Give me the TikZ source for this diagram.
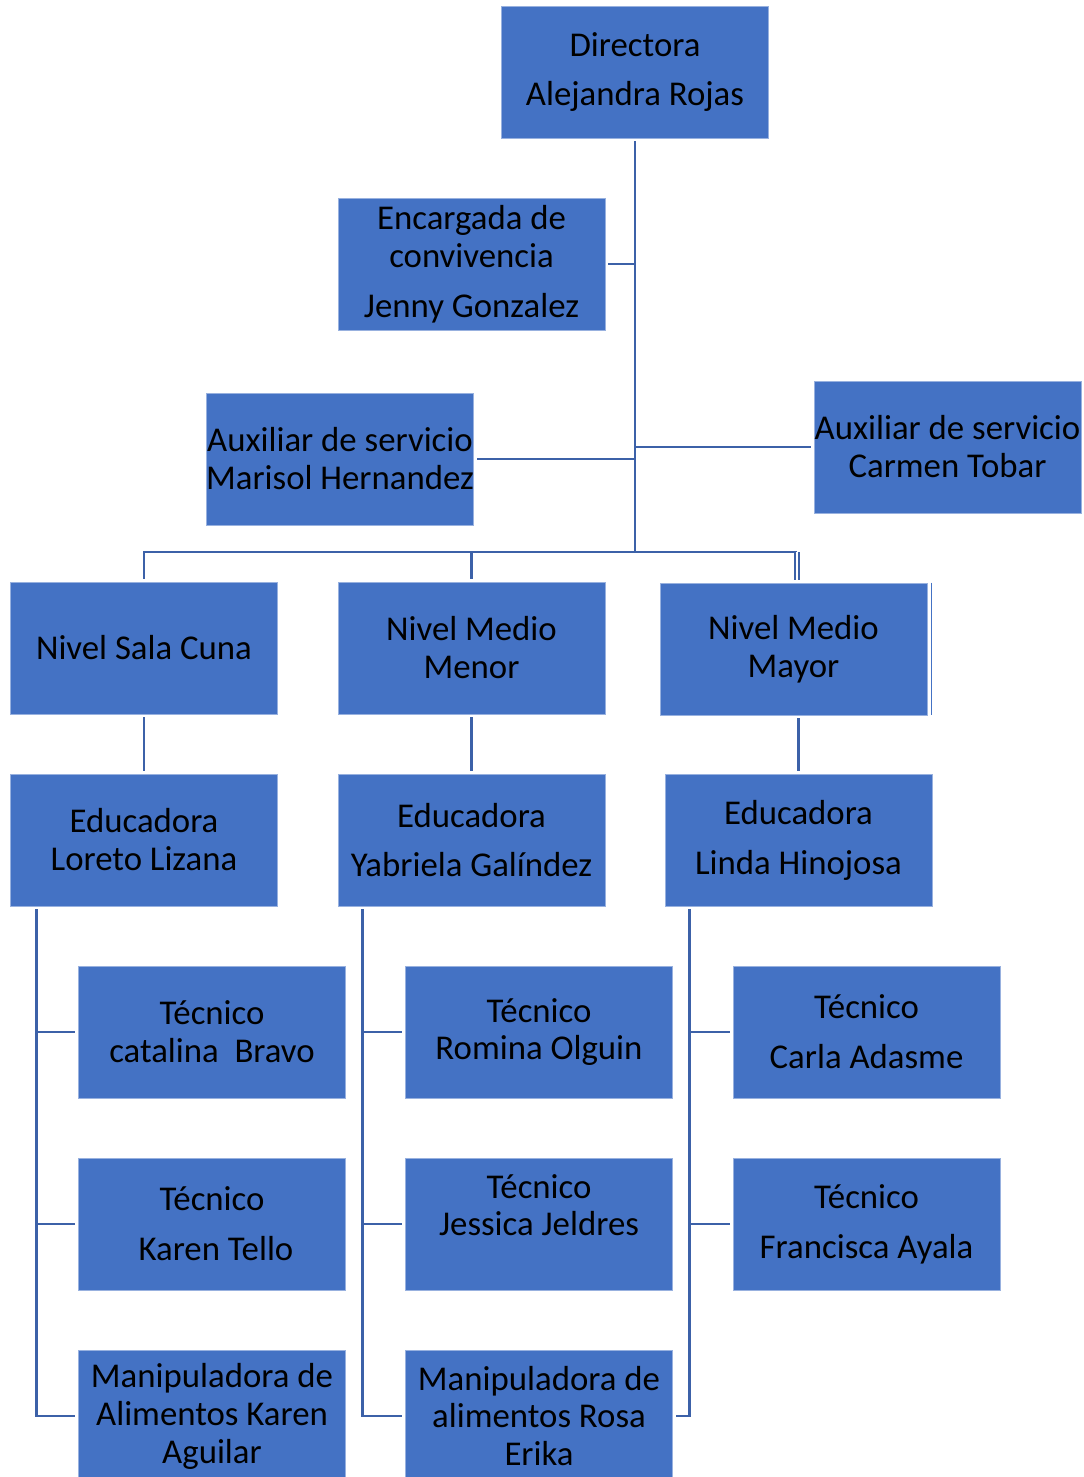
\documentclass[tikz,border=0pt]{standalone}
\usepackage{fontspec}
\setmainfont{Carlito}
\usetikzlibrary{calc, positioning}
\definecolor{box_blue}{RGB}{68,114,196}
\definecolor{line_blue}{RGB}{60,97,168}

\begin{document}
\begin{tikzpicture}[x=0.02cm, y=-0.02cm,
    box/.style={rectangle, draw=box_blue!55!white, line width=0.4pt, fill=box_blue,
      minimum width=5.34cm, minimum height=2.64cm, inner sep=0pt, align=center,
      font=\fontsize{19.8pt}{21.6pt}\selectfont},
    conn/.style={line_blue, line width=1.6pt},
    gap/.style={shorten <=0.06cm, shorten >=0.06cm}]
      \clip (0,0) rectangle (1084,1477);
      % top
      \node[box] (dir) at (635,72) {Directora\\[6.8pt]Alejandra Rojas};
      \node[box] (conv) at (471.5,264) {Encargada de\\convivencia\\[6.8pt]Jenny Gonzalez};
      \node[box] (auxA) at (340,459) {Auxiliar de servicio\\Marisol Hernandez};
      \node[box] (auxB) at (947.5,447) {Auxiliar de servicio\\Carmen Tobar};
      % niveles
      \node[box] (sala) at (144,648) {Nivel Sala Cuna};
      \node[box] (menor) at (471.5,648) {Nivel Medio\\Menor};
      \node[box] (mayor) at (793.5,649) {Nivel Medio\\Mayor};
      % educadoras
      \node[box] (edA) at (144,840) {Educadora\\Loreto Lizana};
      \node[box] (edB) at (471.5,840) {Educadora\\[6.8pt]Yabriela Galíndez};
      \node[box] (edC) at (798.5,840) {Educadora\\[6.8pt]Linda Hinojosa};
      % tecnicos
      \node[box] (tecA1) at (212,1032) {Técnico\\catalina\ \ Bravo};
      \node[box] (tecB1) at (539,1032) {Técnico\\Romina Olguin};
      \node[box] (tecC1) at (866.5,1032) {Técnico\\[6.8pt]Carla Adasme};
      \node[box] (tecA2) at (212,1224) {Técnico\\[6.8pt]\ Karen Tello};
      \node[box] (tecB2) at (539,1224) {Técnico\\Jessica Jeldres\\\mbox{}};
      \node[box] (tecC2) at (866.5,1224) {Técnico\\[6.8pt]Francisca Ayala};
      % manipuladoras
      \node[box] (manA) at (212,1416) {Manipuladora de\\Alimentos Karen\\Aguilar};
      \node[box] (manB) at (539,1416) {Manipuladora de\\alimentos Rosa\\Erika};

      % tronco
      \coordinate (busC) at (635,552);
      \coordinate (busL) at (144,552);
      \coordinate (busR) at (797,552);
      \draw[conn, shorten <=0.06cm] (dir.south) -- (busC);
      \draw[conn, shorten <=0.06cm] (conv.east) -- (conv.east -| busC);
      \draw[conn, shorten <=0.06cm] (auxA.east) -- (auxA.east -| busC);
      \draw[conn, shorten <=0.06cm] (auxB.west) -- (auxB.west -| busC);
      \draw[conn, shorten <=0.06cm] (sala.north) -- (busL) -- (busR);
      \draw[conn, shorten <=0.06cm] (menor.north) -- (menor.north |- busC);
      \draw[line_blue, line width=1pt, double=white, double distance=0.032cm, shorten >=0.06cm]
        (busR) -- (busR |- mayor.north);
      \draw[box_blue, line width=0.03cm] ($(mayor.north east)+(4,0)$) -- ($(mayor.south east)+(4,0)$);

      % niveles -> educadoras
      \draw[conn, gap] (sala) -- (edA);
      \draw[conn, gap] (menor) -- (edB);
      \draw[conn, gap] (edC.north) -- (edC.north |- mayor.south);

      % educadoras -> personal
      \draw[conn, gap] ($(edA.south west)+(26,0)$) coordinate (cA) |- (manA.west);
      \draw[conn, shorten >=0.06cm] (cA |- tecA1) -- (tecA1.west);
      \draw[conn, shorten >=0.06cm] (cA |- tecA2) -- (tecA2.west);
      \draw[conn, gap] ($(edB.south west)+(25,0)$) coordinate (cB) |- (manB.west);
      \draw[conn, shorten >=0.06cm] (cB |- tecB1) -- (tecB1.west);
      \draw[conn, shorten >=0.06cm] (cB |- tecB2) -- (tecB2.west);
      \draw[conn, gap] ($(edC.south west)+(25,0)$) coordinate (cC) |- (manB.east);
      \draw[conn, shorten >=0.06cm] (cC |- tecC1) -- (tecC1.west);
      \draw[conn, shorten >=0.06cm] (cC |- tecC2) -- (tecC2.west);
    \end{tikzpicture}
\end{document}
